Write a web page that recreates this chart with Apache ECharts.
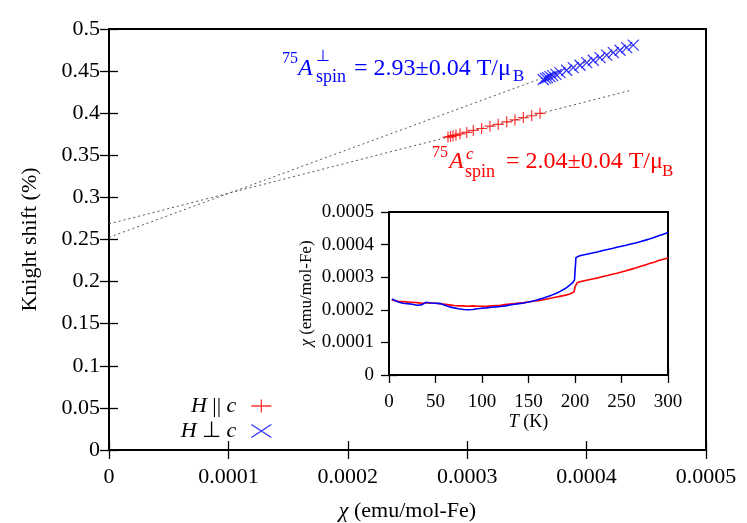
<!DOCTYPE html>
<html>
<head>
<meta charset="utf-8">
<script src="https://cdn.jsdelivr.net/npm/echarts@6/dist/echarts.min.js"></script>
<style>
html,body{margin:0;padding:0;background:#fff;}
#c{width:747px;height:523px;}
</style>
</head>
<body>
<div id="c"></div>
<script>
// ---- Main plot data: Knight shift vs susceptibility ----
const chiC = [0.0002839, 0.0002860, 0.0002881, 0.0002906, 0.0002940, 0.0002996, 0.0003051, 0.0003121, 0.0003191, 0.0003260, 0.0003331, 0.0003400, 0.0003470, 0.0003540, 0.0003610];
const knightC = [0.3717, 0.3722, 0.3733, 0.3740, 0.3755, 0.3772, 0.3795, 0.3818, 0.3846, 0.3868, 0.3897, 0.3920, 0.3948, 0.3970, 0.3999];
const chiPerp = [0.0003637, 0.0003657, 0.0003674, 0.0003693, 0.0003716, 0.0003744, 0.0003777, 0.0003833, 0.0003888, 0.0003945, 0.0004001, 0.0004056, 0.0004112, 0.0004168, 0.0004224, 0.0004280, 0.0004336, 0.0004391];
const knightPerp = [0.4400, 0.4413, 0.4423, 0.4435, 0.4447, 0.4462, 0.4481, 0.4510, 0.4541, 0.4570, 0.4600, 0.4629, 0.4660, 0.4690, 0.4719, 0.4748, 0.4778, 0.4808];
// linear fits (dotted lines), endpoints
const fitCChi = [0, 0.000437];
const fitCK = [0.2686, 0.4272];
const fitPerpChi = [0, 0.000439];
const fitPerpK = [0.2526, 0.4814];

// ---- Inset data: susceptibility vs temperature ----
const tempC = [3,5,10,15,20,25,30,35,40,45,50,55,60,65,70,75,80,85,90,95,100,105,110,115,120,125,130,135,140,145,150,155,160,165,170,175,180,185,190,195,199,200,202,205,210,215,220,225,230,235,240,245,250,255,260,265,270,275,280,285,290,295,300];
const suscC = [2.30e-4,2.28e-4,2.26e-4,2.25e-4,2.24e-4,2.23e-4,2.22e-4,2.20e-4,2.21e-4,2.21e-4,2.20e-4,2.19e-4,2.17e-4,2.15e-4,2.13e-4,2.12e-4,2.12e-4,2.11e-4,2.12e-4,2.11e-4,2.11e-4,2.11e-4,2.12e-4,2.13e-4,2.14e-4,2.16e-4,2.18e-4,2.19e-4,2.21e-4,2.22e-4,2.24e-4,2.26e-4,2.28e-4,2.30e-4,2.33e-4,2.36e-4,2.39e-4,2.42e-4,2.45e-4,2.49e-4,2.55e-4,2.70e-4,2.82e-4,2.86e-4,2.89e-4,2.92e-4,2.95e-4,2.98e-4,3.02e-4,3.05e-4,3.09e-4,3.12e-4,3.16e-4,3.20e-4,3.24e-4,3.28e-4,3.33e-4,3.37e-4,3.42e-4,3.46e-4,3.51e-4,3.55e-4,3.59e-4];
const tempPerp = [3,5,10,15,20,25,30,35,40,45,50,55,60,65,70,75,80,85,90,95,100,105,110,115,120,125,130,135,140,145,150,155,160,165,170,175,180,185,190,195,198,199.5,201,203,205,210,215,220,225,230,235,240,245,250,255,260,265,270,275,280,285,290,295,300];
const suscPerp = [2.33e-4,2.30e-4,2.24e-4,2.20e-4,2.19e-4,2.17e-4,2.14e-4,2.15e-4,2.23e-4,2.21e-4,2.20e-4,2.19e-4,2.14e-4,2.09e-4,2.06e-4,2.03e-4,2.01e-4,2.00e-4,2.01e-4,2.03e-4,2.05e-4,2.06e-4,2.08e-4,2.09e-4,2.10e-4,2.12e-4,2.15e-4,2.17e-4,2.19e-4,2.21e-4,2.24e-4,2.27e-4,2.31e-4,2.35e-4,2.40e-4,2.45e-4,2.51e-4,2.58e-4,2.66e-4,2.77e-4,2.85e-4,2.92e-4,3.60e-4,3.63e-4,3.66e-4,3.69e-4,3.72e-4,3.75e-4,3.78e-4,3.82e-4,3.85e-4,3.88e-4,3.92e-4,3.95e-4,3.98e-4,4.02e-4,4.05e-4,4.09e-4,4.13e-4,4.17e-4,4.22e-4,4.27e-4,4.32e-4,4.37e-4];

// ---- Labels ----
const nameC = 'H || c';
const namePerp = 'H ⊥ c';
const mainXTitle = '{i|χ} (emu/mol-Fe)';
const mainYTitle = 'Knight shift (%)';
const insetXTitle = '{i|T} (K)';
const insetYTitle = '{i|χ} (emu/mol-Fe)';

const zip = (a, b) => a.map((v, i) => [v, b[i]]);
const FONT = '"Liberation Serif", "Times New Roman", serif';
const fmt = v => String(parseFloat(Number(v).toFixed(6)));

const plusPath = 'path://M0,6L12,6M6,0L6,12';
const crossPath = 'path://M0,0L12,12M12,0L0,12';
const RED = '#ff0000', BLUE = '#0000ff';

function mkAxis(type, grid, pos, min, max, interval, showLabel, fontSize, margin, tickLen) {
  return {
    type: 'value', gridIndex: grid, position: pos, min: min, max: max, interval: interval,
    axisLine: {show: false},
    splitLine: {show: false},
    axisTick: {show: true, inside: true, length: tickLen, lineStyle: {color: '#000', width: 1.3}},
    axisLabel: {show: showLabel, color: '#000', fontFamily: FONT, fontSize: fontSize, margin: margin, formatter: fmt}
  };
}

const xMain = mkAxis('x', 0, 'bottom', 0, 0.0005, 0.0001, true, 22, 16, 9);
Object.assign(xMain, {name: mainXTitle, nameLocation: 'middle', nameGap: 50,
  nameTextStyle: {color: '#000', fontFamily: FONT, fontSize: 22,
    rich: {i: {fontStyle: 'italic', fontFamily: FONT, fontSize: 22, color: '#000'}}}});
const yMain = mkAxis('y', 0, 'left', 0, 0.5, 0.05, true, 22, 9, 9);
Object.assign(yMain, {name: mainYTitle, nameLocation: 'middle', nameGap: 68,
  nameTextStyle: {color: '#000', fontFamily: FONT, fontSize: 22}});
const xInset = mkAxis('x', 1, 'bottom', 0, 300, 50, true, 19, 18, 8);
Object.assign(xInset, {name: insetXTitle, nameLocation: 'middle', nameGap: 37,
  nameTextStyle: {color: '#000', fontFamily: FONT, fontSize: 18,
    rich: {i: {fontStyle: 'italic', fontFamily: FONT, fontSize: 18, color: '#000'}}}});
const yInset = mkAxis('y', 1, 'left', 0, 0.0005, 0.0001, true, 19, 15, 8);
Object.assign(yInset, {name: insetYTitle, nameLocation: 'middle', nameGap: 74,
  nameTextStyle: {color: '#000', fontFamily: FONT, fontSize: 17,
    rich: {i: {fontStyle: 'italic', fontFamily: FONT, fontSize: 17, color: '#000'}}}});

const legendText = {color: '#000', fontFamily: FONT, fontSize: 22, padding: [0, 10, 0, 0],
  rich: {i: {fontStyle: 'italic', fontFamily: FONT, fontSize: 22, color: '#000'}}};
const legendFmt = n => n.replace(/H/, '{i|H}').replace(/c$/, '{i|c}');

const option = {
  animation: false,
  backgroundColor: '#fff',
  grid: [
    {left: 109, right: 41, top: 29, bottom: 73, show: true, borderColor: '#000', borderWidth: 2, backgroundColor: 'transparent', containLabel: false, outerBoundsMode: 'none'},
    {left: 389, right: 79, top: 212, bottom: 148, show: true, borderColor: '#000', borderWidth: 2, backgroundColor: '#fff', z: 5, containLabel: false, outerBoundsMode: 'none'}
  ],
  xAxis: [
    xMain,
    mkAxis('x', 0, 'top', 0, 0.0005, 0.0001, false, 22, 8, 9),
    xInset,
    mkAxis('x', 1, 'top', 0, 300, 50, false, 19, 8, 8)
  ],
  yAxis: [
    yMain,
    mkAxis('y', 0, 'right', 0, 0.5, 0.05, false, 22, 8, 9),
    yInset,
    mkAxis('y', 1, 'right', 0, 0.0005, 0.0001, false, 19, 8, 8)
  ],
  legend: [
    {orient: 'vertical', right: 470, top: 390, align: 'right', itemWidth: 20, itemHeight: 13,
     data: [{name: nameC, icon: 'path://M0,6.5L20,6.5M10,0L10,13', itemStyle: {color: 'transparent', borderColor: RED, borderWidth: 1.3}}],
     textStyle: legendText, formatter: legendFmt, selectedMode: false},
    {orient: 'vertical', right: 470, top: 415, align: 'right', itemWidth: 20, itemHeight: 13,
     data: [{name: namePerp, icon: 'path://M0,0L20,13M20,0L0,13', itemStyle: {color: 'transparent', borderColor: BLUE, borderWidth: 1.3}}],
     textStyle: legendText, formatter: legendFmt, selectedMode: false}
  ],
  series: [
    {type: 'line', name: 'fitC', xAxisIndex: 0, yAxisIndex: 0, data: zip(fitCChi, fitCK), showSymbol: false,
     lineStyle: {color: '#555', width: 1, type: [2, 3]}, silent: true, z: 2},
    {type: 'line', name: 'fitPerp', xAxisIndex: 0, yAxisIndex: 0, data: zip(fitPerpChi, fitPerpK), showSymbol: false,
     lineStyle: {color: '#555', width: 1, type: [2, 3]}, silent: true, z: 2},
    {type: 'scatter', name: nameC, xAxisIndex: 0, yAxisIndex: 0, data: zip(chiC, knightC),
     symbol: plusPath, symbolSize: 11, itemStyle: {color: 'transparent', borderColor: RED, borderWidth: 1.2}, z: 3},
    {type: 'scatter', name: namePerp, xAxisIndex: 0, yAxisIndex: 0, data: zip(chiPerp, knightPerp),
     symbol: crossPath, symbolSize: 11, itemStyle: {color: 'transparent', borderColor: BLUE, borderWidth: 1.2}, z: 3},
    {type: 'line', name: 'insetC', xAxisIndex: 2, yAxisIndex: 2, data: zip(tempC, suscC), showSymbol: false,
     lineStyle: {color: RED, width: 1.6}, z: 6},
    {type: 'line', name: 'insetPerp', xAxisIndex: 2, yAxisIndex: 2, data: zip(tempPerp, suscPerp), showSymbol: false,
     lineStyle: {color: BLUE, width: 1.6}, z: 7}
  ],
  graphic: [
    // blue annotation
    {type: 'text', x: 282, y: 59, z: 100, style: {text: '75', font: '16px ' + FONT, fill: BLUE, verticalAlign: 'middle'}},
    {type: 'text', x: 298, y: 69, z: 100, style: {text: 'A', font: 'italic 24px ' + FONT, fill: BLUE, verticalAlign: 'middle'}},
    {type: 'text', x: 316, y: 57, z: 100, style: {text: '⊥', font: '16px ' + FONT, fill: BLUE, verticalAlign: 'middle'}},
    {type: 'text', x: 316, y: 77, z: 100, style: {text: 'spin', font: '18px ' + FONT, fill: BLUE, verticalAlign: 'middle'}},
    {type: 'text', x: 354, y: 69, z: 100, style: {text: '= 2.93±0.04 T/μ', font: '24px ' + FONT, fill: BLUE, verticalAlign: 'middle'}},
    {type: 'text', x: 513, y: 77, z: 100, style: {text: 'B', font: '17px ' + FONT, fill: BLUE, verticalAlign: 'middle'}},
    // red annotation
    {type: 'text', x: 432, y: 153, z: 100, style: {text: '75', font: '16px ' + FONT, fill: RED, verticalAlign: 'middle'}},
    {type: 'text', x: 449, y: 162, z: 100, style: {text: 'A', font: 'italic 24px ' + FONT, fill: RED, verticalAlign: 'middle'}},
    {type: 'text', x: 466, y: 155, z: 100, style: {text: 'c', font: 'italic 17px ' + FONT, fill: RED, verticalAlign: 'middle'}},
    {type: 'text', x: 465, y: 172, z: 100, style: {text: 'spin', font: '18px ' + FONT, fill: RED, verticalAlign: 'middle'}},
    {type: 'text', x: 506, y: 162, z: 100, style: {text: '= 2.04±0.04 T/μ', font: '24px ' + FONT, fill: RED, verticalAlign: 'middle'}},
    {type: 'text', x: 662, y: 172, z: 100, style: {text: 'B', font: '17px ' + FONT, fill: RED, verticalAlign: 'middle'}}
  ]
};

const chart = echarts.init(document.getElementById('c'), null, {renderer: 'canvas'});
chart.setOption(option);
</script>
</body>
</html>
